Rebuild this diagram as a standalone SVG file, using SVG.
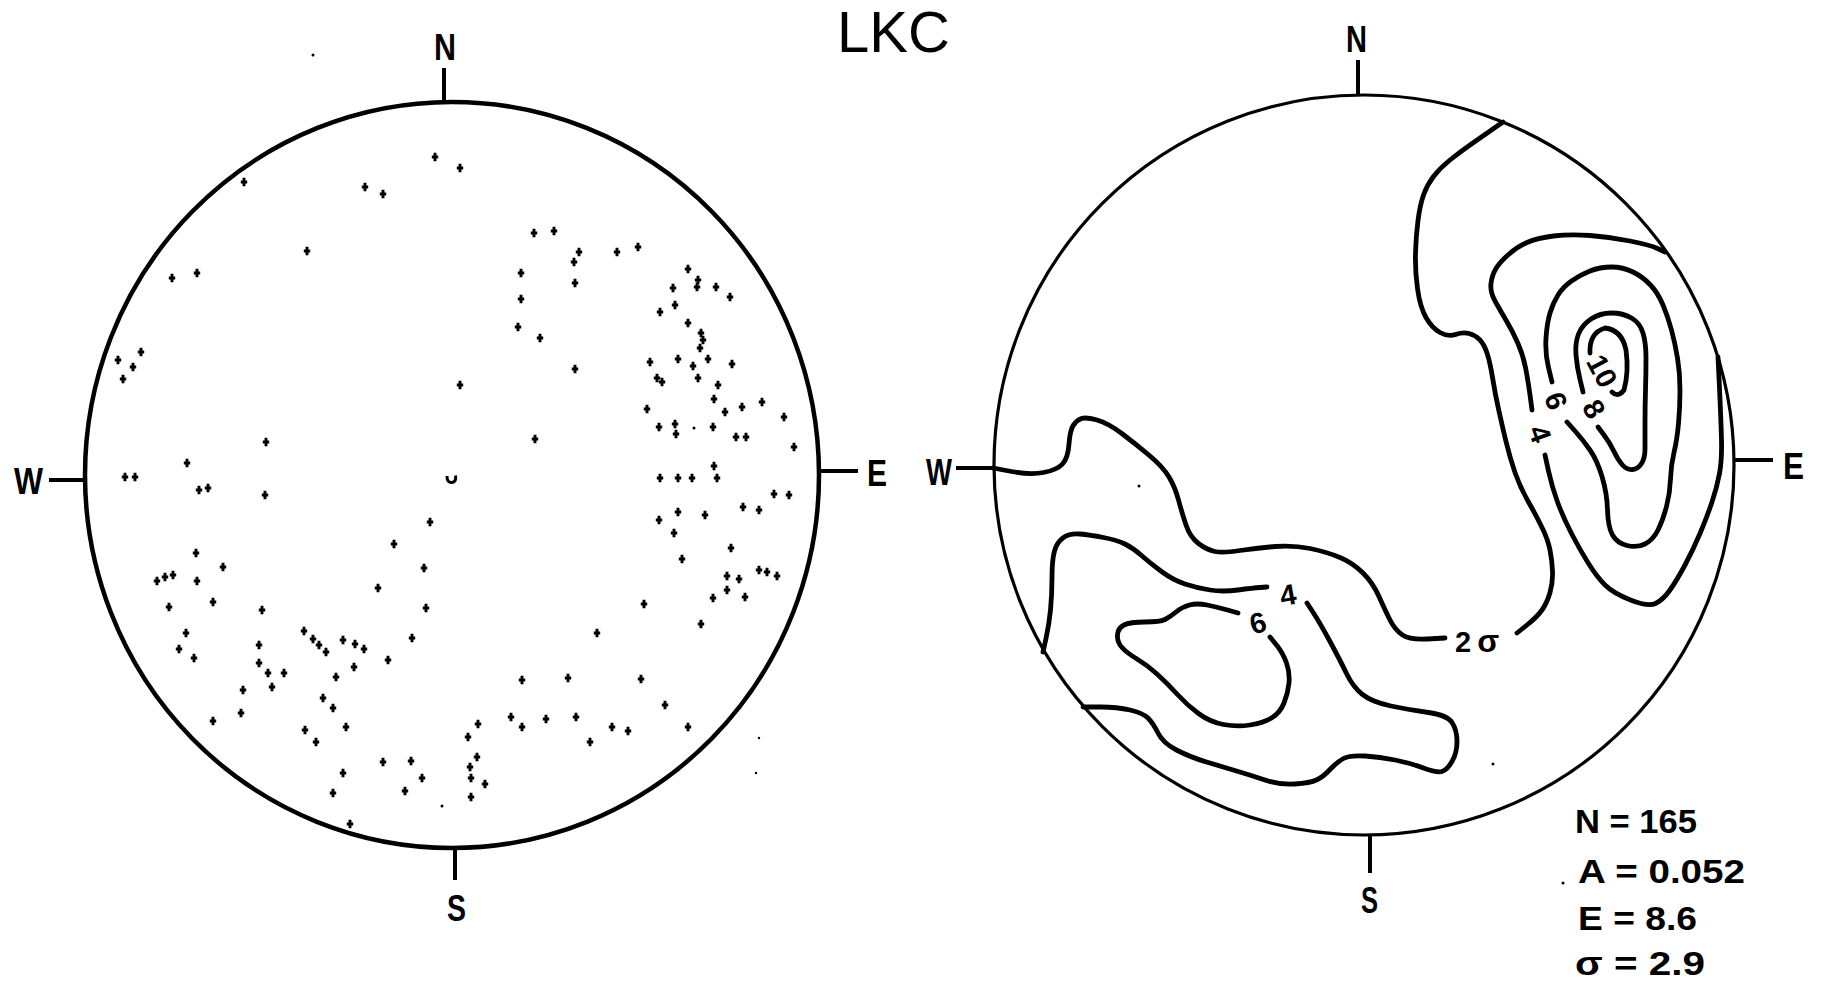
<svg xmlns="http://www.w3.org/2000/svg" xmlns:xlink="http://www.w3.org/1999/xlink" width="1824" height="992" viewBox="0 0 1824 992">
<style>
.c{fill:none;stroke:#000;stroke-width:4.5}
.tk{fill:none;stroke:#000;stroke-width:4;stroke-linecap:butt}
.k{fill:none;stroke:#000;stroke-width:4.8;stroke-linecap:round;stroke-linejoin:round}
.lb{font-family:"Liberation Sans",Arial,sans-serif;font-weight:bold;font-size:36px;fill:#000}
.cl{font-family:"Liberation Sans",Arial,sans-serif;font-weight:bold;font-size:29px;fill:#000}
.st{font-family:"Liberation Sans",Arial,sans-serif;font-weight:bold;font-size:33px;fill:#000}
.ti{font-family:"Liberation Sans",Arial,sans-serif;font-size:58px;fill:#000}
.d{fill:#000}
</style>
<defs>
<path id="p" d="M-3.2,0H3.2M0,-4.2V4.2" stroke="#000" stroke-width="2.9" fill="none"/>
</defs>
<rect width="1824" height="992" fill="#fff"/>

<text class="ti" x="837" y="52">LKC</text>

<g id="left-net">
<ellipse class="c" cx="452" cy="475" rx="367" ry="373"/>
<path class="tk" d="M444,68V102M49,480H86M820,471H858M455,847V880"/>
<text class="lb" x="434" y="60" textLength="22" lengthAdjust="spacingAndGlyphs">N</text>
<text class="lb" x="14" y="494" textLength="29" lengthAdjust="spacingAndGlyphs">W</text>
<text class="lb" x="867" y="486" textLength="20" lengthAdjust="spacingAndGlyphs">E</text>
<text class="lb" x="447" y="921" textLength="19" lengthAdjust="spacingAndGlyphs">S</text>
<path d="M447,476q0,7 5,6.5q4.5,-0.5 3.5,-7" fill="none" stroke="#000" stroke-width="3"/>
<g id="points">
<use href="#p" x="435" y="157"/><use href="#p" x="460" y="168"/><use href="#p" x="244" y="182"/><use href="#p" x="365" y="187"/><use href="#p" x="383" y="194"/><use href="#p" x="534" y="233"/><use href="#p" x="554" y="231"/><use href="#p" x="307" y="251"/><use href="#p" x="579" y="252"/><use href="#p" x="617" y="252"/><use href="#p" x="638" y="247"/><use href="#p" x="574" y="262"/><use href="#p" x="172" y="278"/><use href="#p" x="197" y="273"/><use href="#p" x="521" y="273"/><use href="#p" x="575" y="283"/><use href="#p" x="688" y="269"/><use href="#p" x="698" y="280"/><use href="#p" x="673" y="288"/><use href="#p" x="697" y="287"/><use href="#p" x="716" y="287"/><use href="#p" x="730" y="297"/><use href="#p" x="521" y="299"/><use href="#p" x="675" y="305"/><use href="#p" x="660" y="312"/><use href="#p" x="518" y="327"/><use href="#p" x="688" y="323"/><use href="#p" x="540" y="338"/><use href="#p" x="701" y="333"/><use href="#p" x="703" y="340"/><use href="#p" x="700" y="348"/><use href="#p" x="141" y="352"/><use href="#p" x="118" y="360"/><use href="#p" x="133" y="367"/><use href="#p" x="123" y="379"/><use href="#p" x="575" y="369"/><use href="#p" x="650" y="362"/><use href="#p" x="678" y="359"/><use href="#p" x="708" y="359"/><use href="#p" x="693" y="366"/><use href="#p" x="732" y="364"/><use href="#p" x="657" y="378"/><use href="#p" x="662" y="382"/><use href="#p" x="698" y="378"/><use href="#p" x="718" y="385"/><use href="#p" x="460" y="385"/><use href="#p" x="714" y="399"/><use href="#p" x="762" y="402"/><use href="#p" x="742" y="407"/><use href="#p" x="725" y="412"/><use href="#p" x="647" y="409"/><use href="#p" x="784" y="417"/><use href="#p" x="659" y="427"/><use href="#p" x="675" y="424"/><use href="#p" x="676" y="434"/><use href="#p" x="713" y="427"/><use href="#p" x="736" y="437"/><use href="#p" x="746" y="437"/><use href="#p" x="266" y="442"/><use href="#p" x="535" y="439"/><use href="#p" x="794" y="447"/><use href="#p" x="187" y="463"/><use href="#p" x="714" y="466"/><use href="#p" x="125" y="477"/><use href="#p" x="135" y="477"/><use href="#p" x="660" y="478"/><use href="#p" x="678" y="478"/><use href="#p" x="692" y="478"/><use href="#p" x="717" y="478"/><use href="#p" x="199" y="490"/><use href="#p" x="208" y="488"/><use href="#p" x="265" y="495"/><use href="#p" x="774" y="494"/><use href="#p" x="789" y="495"/>
<use href="#p" x="430" y="522"/><use href="#p" x="659" y="520"/><use href="#p" x="678" y="512"/><use href="#p" x="705" y="515"/><use href="#p" x="743" y="507"/><use href="#p" x="759" y="510"/><use href="#p" x="674" y="533"/><use href="#p" x="394" y="544"/><use href="#p" x="731" y="548"/><use href="#p" x="196" y="553"/><use href="#p" x="682" y="559"/><use href="#p" x="424" y="568"/><use href="#p" x="223" y="567"/><use href="#p" x="157" y="581"/><use href="#p" x="165" y="577"/><use href="#p" x="173" y="575"/><use href="#p" x="197" y="581"/><use href="#p" x="759" y="570"/><use href="#p" x="767" y="572"/><use href="#p" x="777" y="576"/><use href="#p" x="727" y="576"/><use href="#p" x="739" y="579"/><use href="#p" x="378" y="588"/><use href="#p" x="727" y="590"/><use href="#p" x="713" y="598"/><use href="#p" x="745" y="597"/><use href="#p" x="213" y="602"/><use href="#p" x="169" y="607"/><use href="#p" x="262" y="610"/><use href="#p" x="426" y="608"/><use href="#p" x="644" y="604"/><use href="#p" x="701" y="624"/><use href="#p" x="186" y="633"/><use href="#p" x="597" y="633"/><use href="#p" x="304" y="631"/><use href="#p" x="313" y="639"/><use href="#p" x="343" y="640"/><use href="#p" x="412" y="638"/><use href="#p" x="319" y="645"/><use href="#p" x="355" y="644"/><use href="#p" x="364" y="649"/><use href="#p" x="326" y="652"/><use href="#p" x="259" y="645"/><use href="#p" x="179" y="649"/><use href="#p" x="194" y="658"/><use href="#p" x="388" y="660"/><use href="#p" x="259" y="663"/><use href="#p" x="354" y="667"/><use href="#p" x="268" y="673"/><use href="#p" x="284" y="673"/><use href="#p" x="336" y="677"/><use href="#p" x="272" y="687"/><use href="#p" x="522" y="680"/><use href="#p" x="568" y="678"/><use href="#p" x="641" y="679"/><use href="#p" x="243" y="690"/><use href="#p" x="323" y="698"/><use href="#p" x="333" y="708"/><use href="#p" x="665" y="705"/><use href="#p" x="241" y="713"/><use href="#p" x="213" y="721"/><use href="#p" x="511" y="717"/><use href="#p" x="546" y="719"/><use href="#p" x="576" y="717"/><use href="#p" x="478" y="724"/><use href="#p" x="346" y="727"/><use href="#p" x="522" y="727"/><use href="#p" x="612" y="727"/><use href="#p" x="628" y="731"/><use href="#p" x="688" y="727"/><use href="#p" x="305" y="730"/><use href="#p" x="468" y="737"/><use href="#p" x="316" y="742"/><use href="#p" x="590" y="742"/><use href="#p" x="477" y="757"/><use href="#p" x="383" y="762"/><use href="#p" x="411" y="761"/><use href="#p" x="470" y="767"/><use href="#p" x="343" y="773"/><use href="#p" x="422" y="778"/><use href="#p" x="471" y="778"/><use href="#p" x="485" y="784"/><use href="#p" x="405" y="791"/><use href="#p" x="333" y="793"/><use href="#p" x="471" y="797"/><use href="#p" x="350" y="824"/>
</g>
<circle class="d" cx="694" cy="428" r="1.5"/><circle class="d" cx="442" cy="806" r="1.5"/><circle class="d" cx="759" cy="738" r="1.2"/><circle class="d" cx="756" cy="773" r="1.2"/><circle class="d" cx="313" cy="55" r="1.5"/>
</g>

<g id="right-net">
<circle cx="1364" cy="465" r="370" fill="none" stroke="#000" stroke-width="3.2"/>
<path class="tk" d="M1358,60V95M956,468H995M1734,460H1773M1370,836V873"/>
<text class="lb" x="1346" y="52" textLength="21" lengthAdjust="spacingAndGlyphs">N</text>
<text class="lb" x="926" y="485" textLength="26" lengthAdjust="spacingAndGlyphs">W</text>
<text class="lb" x="1783" y="479" textLength="21" lengthAdjust="spacingAndGlyphs">E</text>
<text class="lb" x="1361" y="913" textLength="17" lengthAdjust="spacingAndGlyphs">S</text>
<circle class="d" cx="1139" cy="486" r="1.5"/><circle class="d" cx="1493" cy="764" r="1.5"/><circle class="d" cx="1563" cy="883" r="1.5"/>
<g id="contours">
<path class="k" d="M993,468 L1011.5,471.5 Q1030,475 1043.5,472.5 Q1057,470 1062.5,464 Q1068,458 1069,444 Q1070,430 1073.5,425 Q1077,420 1081.5,418.5 Q1086,417 1097,420 Q1108,423 1122.5,434 Q1137,445 1150,456 Q1163,467 1169,477 Q1175,487 1178.5,500 Q1182,513 1186,525 Q1190,537 1198.5,543.5 Q1207,550 1215,551.5 Q1223,553 1240,550.5 Q1257,548 1275,546.5 Q1293,545 1310,548.5 Q1327,552 1340,557.5 Q1353,563 1363,573 Q1373,583 1379,596.5 Q1385,610 1390,620 Q1395,630 1402.5,635 Q1410,640 1427.5,639 L1445,638"/>
<path class="k" d="M1517,633 L1527,625 Q1537,617 1542,610 Q1547,603 1550,592.5 Q1553,582 1552.5,571 Q1552,560 1550,550 Q1548,540 1542.5,528.5 Q1537,517 1528.5,502 Q1520,487 1515,472.5 Q1510,458 1506,441.5 Q1502,425 1498.5,409 Q1495,393 1492.5,377.5 Q1490,362 1487,353 Q1484,344 1479.5,339.5 Q1475,335 1469,333.5 Q1463,332 1455.5,334.5 Q1448,337 1440,332.5 Q1432,328 1426,317.5 Q1420,307 1417.5,288.5 Q1415,270 1415.5,253 Q1416,236 1418,220.5 Q1420,205 1423.5,195 Q1427,185 1433.5,176.5 Q1440,168 1450,160 Q1460,152 1470,145 Q1480,138 1491.5,130 L1503,122"/>
<path class="k" d="M1665,252 L1657.5,248.5 Q1650,245 1630,241 Q1610,237 1590,235.5 Q1570,234 1553.5,236 Q1537,238 1527,242.5 Q1517,247 1508.5,254.5 Q1500,262 1496,268.5 Q1492,275 1491,283.5 Q1490,292 1495,301 Q1500,310 1506.5,321 Q1513,332 1518,343.5 Q1523,355 1525.5,367.5 Q1528,380 1530,395 L1532,410"/>
<path class="k" d="M1545,455 L1548.5,471 Q1552,487 1557.5,502 Q1563,517 1571.5,533.5 Q1580,550 1588.5,563.5 Q1597,577 1605,585 Q1613,593 1630.5,600 Q1648,607 1655.5,603.5 Q1663,600 1670,590 Q1677,580 1685,565 Q1693,550 1700,533.5 Q1707,517 1712,502 Q1717,487 1719.5,473.5 Q1722,460 1721.5,440 Q1721,420 1719.5,388.5 L1718,357"/>
<path class="k" d="M1552,382 L1548.5,367.5 Q1545,353 1546,338 Q1547,323 1550,313 Q1553,303 1558,295 Q1563,287 1571.5,281 Q1580,275 1590,271 Q1600,267 1611.5,267 Q1623,267 1633,272 Q1643,277 1650.5,285 Q1658,293 1663,305 Q1668,317 1671.5,330 Q1675,343 1677.5,358 Q1680,373 1680,390 Q1680,407 1678.5,423.5 Q1677,440 1674,452.5 Q1671,465 1670.5,479 Q1670,493 1666.5,506.5 Q1663,520 1658,530 Q1653,540 1645,544 Q1637,548 1627,545.5 Q1617,543 1612.5,535 Q1608,527 1607.5,510 Q1607,493 1602,476.5 Q1597,460 1590,450 Q1583,440 1575,431 L1567,422"/>
<path class="k" d="M1583,392 L1580,379.5 Q1577,367 1576,355 Q1575,343 1578.5,334 Q1582,325 1591,319 Q1600,313 1611.5,313 Q1623,313 1631.5,318 Q1640,323 1643,333 Q1646,343 1646,358 Q1646,373 1645.5,390 Q1645,407 1645,423.5 Q1645,440 1645,449 Q1645,458 1641.5,463.5 Q1638,469 1632.5,469.5 Q1627,470 1622.5,465 Q1618,460 1614,451.5 Q1610,443 1604,435 L1598,427"/>
<path class="k" d="M1590,353 Q1589,333 1605,328 Q1622,330 1626,350 Q1629,372 1624,390 Q1618,398 1612,392"/>
<path class="k" d="M1043,652 L1046,638.5 Q1049,625 1050.5,610 Q1052,595 1052,577.5 Q1052,560 1054.5,551 Q1057,542 1063.5,537.5 Q1070,533 1080,534 Q1090,535 1103.5,537.5 Q1117,540 1125,544 Q1133,548 1141.5,555.5 Q1150,563 1161.5,571.5 Q1173,580 1185,584 Q1197,588 1210,590 Q1223,592 1238,590 Q1253,588 1260,587.5 L1267,587"/>
<path class="k" d="M1307,603 L1313.5,613 Q1320,623 1330,641.5 Q1340,660 1346.5,673.5 Q1353,687 1362.5,694.5 Q1372,702 1391,706 Q1410,710 1428.5,712.5 Q1447,715 1452,722.5 Q1457,730 1457,741.5 Q1457,753 1452,761.5 Q1447,770 1442,771.5 Q1437,773 1423.5,768 Q1410,763 1395,760 Q1380,757 1365,756 Q1350,755 1343.5,758.5 Q1337,762 1330,769.5 Q1323,777 1316.5,780 Q1310,783 1295,784 Q1280,785 1265,780 Q1250,775 1236.5,771 Q1223,767 1206.5,762 Q1190,757 1176.5,750 Q1163,743 1158,733 Q1153,723 1148,718 Q1143,713 1130,710 Q1117,707 1101,707 L1083,707"/>
<path class="k" d="M1270,637 L1276.5,645 Q1283,653 1286.5,663 Q1290,673 1289,683 Q1288,693 1284,703 Q1280,713 1271.5,718 Q1263,723 1250,725 Q1237,727 1223.5,724.5 Q1210,722 1198.5,713.5 Q1187,705 1177,694 Q1167,683 1157,674 Q1147,665 1137,659 Q1127,653 1122,647.5 Q1117,642 1117.5,635 Q1118,628 1124,625 Q1130,622 1145,622 Q1160,622 1165,619.5 Q1170,617 1176,612 Q1182,607 1189.5,605 Q1197,603 1207,605 Q1217,607 1227.5,610 L1238,613"/>
</g>
<g id="contour-labels">
<text class="cl" x="1455" y="652" font-size="30">2<tspan dx="6" font-size="32">σ</tspan></text>
<text class="cl" x="1288" y="595" text-anchor="middle" dominant-baseline="central" transform="rotate(-10 1288 595)">4</text>
<text class="cl" x="1258" y="623" text-anchor="middle" dominant-baseline="central" transform="rotate(-15 1258 623)">6</text>
<text class="cl" x="1540" y="434" text-anchor="middle" dominant-baseline="central" transform="rotate(70 1540 434)">4</text>
<text class="cl" x="1556" y="401" text-anchor="middle" dominant-baseline="central" transform="rotate(70 1556 401)">6</text>
<text class="cl" x="1594" y="409" text-anchor="middle" dominant-baseline="central" transform="rotate(60 1594 409)">8</text>
<text class="cl" x="1602" y="371" text-anchor="middle" dominant-baseline="central" transform="rotate(62 1602 371)">10</text>
</g>
</g>

<g id="stats">
<text class="st" x="1575" y="833" textLength="122" lengthAdjust="spacingAndGlyphs">N = 165</text>
<text class="st" x="1578" y="883" textLength="167" lengthAdjust="spacingAndGlyphs">A = 0.052</text>
<text class="st" x="1578" y="930" textLength="119" lengthAdjust="spacingAndGlyphs">E = 8.6</text>
<text class="st" x="1575" y="975" textLength="130" lengthAdjust="spacingAndGlyphs">σ = 2.9</text>
</g>
</svg>
